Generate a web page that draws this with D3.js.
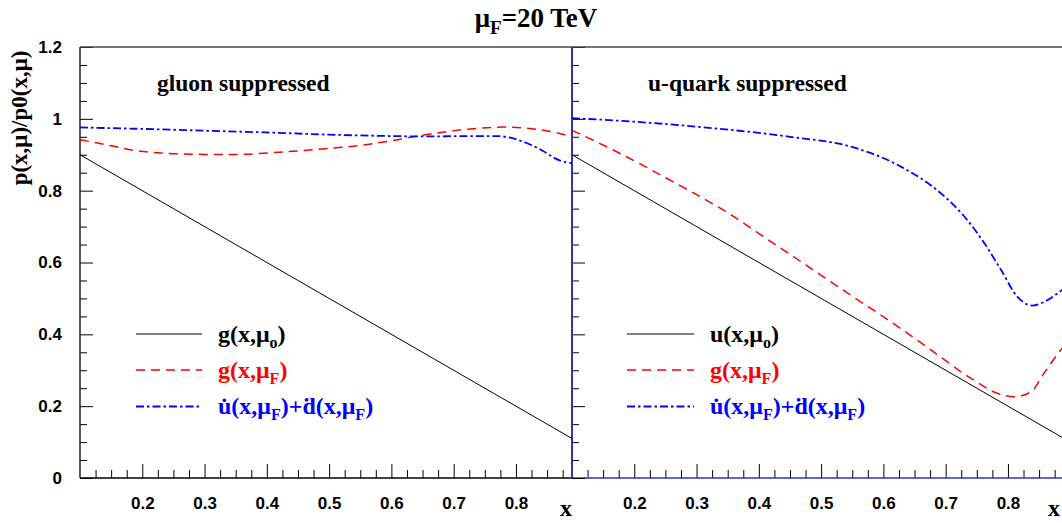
<!DOCTYPE html>
<html><head><meta charset="utf-8">
<script src="https://cdn.jsdelivr.net/npm/d3@7"></script>
<style>
body{margin:0;background:#fff;}
svg{display:block;}
text{font-family:"Liberation Serif","Times New Roman",serif;font-weight:bold;}
.tick text{font-family:"Liberation Sans",Arial,sans-serif;font-weight:bold;font-size:17px;fill:#000;}
</style></head><body>
<svg id="c" width="1062" height="523"></svg>
<script>
// ---------- data ----------
const xMajorTicks = [0.2, 0.3, 0.4, 0.5, 0.6, 0.7, 0.8];
const yMajorTicks = [0, 0.2, 0.4, 0.6, 0.8, 1.0, 1.2];

// straight reference lines (same in both panels)
const baseX = [0.10, 0.89];
const gluonBase = [0.90, 0.11];   // g(x,mu_o)
const uBase = [0.90, 0.11];       // u(x,mu_o)

// gluon suppressed panel
const gluonRedX = [0.10, 0.15, 0.181, 0.25, 0.30, 0.35, 0.42, 0.50, 0.55, 0.593, 0.663, 0.727, 0.78, 0.818, 0.855, 0.89];
const gluonRedY = [0.942, 0.925, 0.914, 0.903, 0.901, 0.901, 0.907, 0.918, 0.926, 0.937, 0.958, 0.972, 0.977, 0.974, 0.965, 0.950];
const gluonBlueX = [0.10, 0.20, 0.30, 0.40, 0.50, 0.60, 0.663, 0.72, 0.77, 0.794, 0.818, 0.842, 0.863, 0.875, 0.89];
const gluonBlueY = [0.976, 0.972, 0.967, 0.962, 0.956, 0.952, 0.951, 0.952, 0.952, 0.946, 0.932, 0.912, 0.890, 0.881, 0.877];

// u-quark suppressed panel
const quarkRedX = [0.10, 0.171, 0.262, 0.342, 0.423, 0.503, 0.551, 0.612, 0.676, 0.740, 0.783, 0.810, 0.837, 0.858, 0.885, 0.89];
const quarkRedY = [0.968, 0.909, 0.825, 0.747, 0.654, 0.561, 0.505, 0.435, 0.357, 0.278, 0.236, 0.226, 0.240, 0.292, 0.357, 0.368];
const quarkBlueX = [0.10, 0.20, 0.326, 0.45, 0.551, 0.628, 0.692, 0.730, 0.762, 0.789, 0.815, 0.839, 0.860, 0.885, 0.89];
const quarkBlueY = [1.002, 0.992, 0.974, 0.950, 0.921, 0.867, 0.793, 0.728, 0.654, 0.579, 0.505, 0.480, 0.492, 0.521, 0.527];

// ---------- drawing ----------
const svg = d3.select("#c");
const Y0 = 478, Y1 = 47;
const y = d3.scaleLinear().domain([0, 1.2]).range([Y0, Y1]);
const xL = d3.scaleLinear().domain([0.1, 0.89]).range([80, 572]);
const xR = d3.scaleLinear().domain([0.1, 0.89]).range([572, 1064]);

const xMinor = d3.range(0.125, 0.89, 0.025).filter(v => Math.abs(v * 10 - Math.round(v * 10)) > 1e-6);
const yMinor = d3.range(0.05, 1.2, 0.05).filter(v => Math.abs(v * 5 - Math.round(v * 5)) > 1e-6);

const BLUE_AXIS = "#2a3aa8";

function xAxes(x, color) {
  const gM = svg.append("g").attr("transform", `translate(0,${Y0})`)
    .call(d3.axisBottom(x).tickValues(xMajorTicks).tickSize(-14).tickSizeOuter(0).tickPadding(19).tickFormat(d3.format(".1f")));
  const gm = svg.append("g").attr("transform", `translate(0,${Y0})`)
    .call(d3.axisBottom(x).tickValues(xMinor).tickSize(-8).tickSizeOuter(0).tickFormat(""));
  [gM, gm].forEach(g => { g.select(".domain").remove(); g.selectAll("line").attr("stroke", "#000"); });
  gm.selectAll("text").remove();
  svg.append("line").attr("x1", x.range()[0]).attr("x2", x.range()[1]).attr("y1", Y0).attr("y2", Y0)
    .attr("stroke", color).attr("stroke-width", 1.6);
}
xAxes(xL, "#000");
xAxes(xR, BLUE_AXIS);

// left y axis
const gy = svg.append("g").attr("transform", "translate(80,0)")
  .call(d3.axisLeft(y).tickValues(yMajorTicks).tickSize(-13).tickSizeOuter(0).tickPadding(18)
    .tickFormat(d => String(+d.toFixed(1))));
const gym = svg.append("g").attr("transform", "translate(80,0)")
  .call(d3.axisLeft(y).tickValues(yMinor).tickSize(-7).tickSizeOuter(0).tickFormat(""));
[gy, gym].forEach(g => { g.select(".domain").remove(); g.selectAll("line").attr("stroke", "#000"); });
gym.selectAll("text").remove();
svg.append("line").attr("x1", 80).attr("x2", 80).attr("y1", Y1).attr("y2", Y0).attr("stroke", "#222").attr("stroke-width", 1.5);

// right panel y axis ticks (no labels)
const gry = svg.append("g").attr("transform", "translate(572,0)")
  .call(d3.axisRight(y).tickValues(yMajorTicks).tickSize(13).tickSizeOuter(0).tickFormat(""));
const grym = svg.append("g").attr("transform", "translate(572,0)")
  .call(d3.axisRight(y).tickValues(yMinor).tickSize(7).tickSizeOuter(0).tickFormat(""));
[gry, grym].forEach(g => { g.select(".domain").remove(); g.selectAll("line").attr("stroke", "#000"); g.selectAll("text").remove(); });

// frame top
svg.append("line").attr("x1", 80).attr("x2", 1062).attr("y1", Y1).attr("y2", Y1).attr("stroke", "#444").attr("stroke-width", 1.6);
// divider
svg.append("line").attr("x1", 572).attr("x2", 572).attr("y1", Y1).attr("y2", Y0).attr("stroke", BLUE_AXIS).attr("stroke-width", 2);

// curves
const styles = {
  black: {stroke: "#000", width: 1, dash: null},
  red: {stroke: "#ff0000", width: 1.5, dash: "9,6"},
  blue: {stroke: "#0000ff", width: 1.8, dash: "8,3,2.5,3"}
};
function curve(x, xs, ys, st) {
  const pts = xs.map((v, i) => [v, ys[i]]);
  const line = d3.line().x(d => x(d[0])).y(d => y(d[1])).curve(d3.curveMonotoneX);
  svg.append("path").attr("d", line(pts)).attr("fill", "none")
    .attr("stroke", st.stroke).attr("stroke-width", st.width)
    .attr("stroke-dasharray", st.dash);
}
curve(xL, baseX, gluonBase, styles.black);
curve(xL, gluonRedX, gluonRedY, styles.red);
curve(xL, gluonBlueX, gluonBlueY, styles.blue);
curve(xR, baseX, uBase, styles.black);
curve(xR, quarkRedX, quarkRedY, styles.red);
curve(xR, quarkBlueX, quarkBlueY, styles.blue);

// rich text helper: subscripts as tspans, baseline restored on the following tspan
function rich(sel, parts, subSize, subDy) {
  let pending = 0;
  parts.forEach(p => {
    if (typeof p === "string") {
      const ts = sel.append("tspan").text(p);
      if (pending) ts.attr("dy", pending);
      pending = 0;
    } else {
      sel.append("tspan").attr("font-size", subSize).attr("dy", subDy).text(p.sub);
      pending = -subDy;
    }
  });
}

// title
const t = svg.append("text").attr("x", 536).attr("y", 27).attr("text-anchor", "middle").attr("font-size", 27);
rich(t, ["\u03bc", {sub: "F"}, "=20 TeV"], 19, 7);

// y axis title
svg.append("text").attr("transform", "translate(27,118) rotate(-90)").attr("text-anchor", "middle")
  .attr("font-size", 23).text("p(x,\u03bc)/p0(x,\u03bc)");

// x axis labels
svg.append("text").attr("x", 566).attr("y", 516).attr("text-anchor", "middle").attr("font-size", 24).text("x");
svg.append("text").attr("x", 1054).attr("y", 516).attr("text-anchor", "middle").attr("font-size", 24).text("x");

// panel labels
svg.append("text").attr("x", 157).attr("y", 91).attr("font-size", 23.5).text("gluon suppressed");
svg.append("text").attr("x", 648).attr("y", 91).attr("font-size", 23.5).text("u-quark suppressed");

// legends
function legend(x0, x1, tx, entries) {
  const ys = [334, 370, 406.5];
  entries.forEach((e, i) => {
    const st = styles[e.style];
    svg.append("line").attr("x1", x0).attr("x2", x1).attr("y1", ys[i]).attr("y2", ys[i])
      .attr("stroke", st.stroke).attr("stroke-width", st.width).attr("stroke-dasharray", st.dash);
    const tx_ = svg.append("text").attr("x", tx).attr("y", ys[i] + 7.5).attr("font-size", 24).attr("fill", st.stroke);
    rich(tx_, e.parts, 16, 6);
  });
}
const blueLabel = ["u\u0307(x,\u03bc", {sub: "F"}, ")+d\u0307(x,\u03bc", {sub: "F"}, ")"];
legend(136, 202, 218, [
  {style: "black", parts: ["g(x,\u03bc", {sub: "o"}, ")"]},
  {style: "red", parts: ["g(x,\u03bc", {sub: "F"}, ")"]},
  {style: "blue", parts: blueLabel}
]);
legend(627, 694, 710, [
  {style: "black", parts: ["u(x,\u03bc", {sub: "o"}, ")"]},
  {style: "red", parts: ["g(x,\u03bc", {sub: "F"}, ")"]},
  {style: "blue", parts: blueLabel}
]);
</script>
</body></html>
